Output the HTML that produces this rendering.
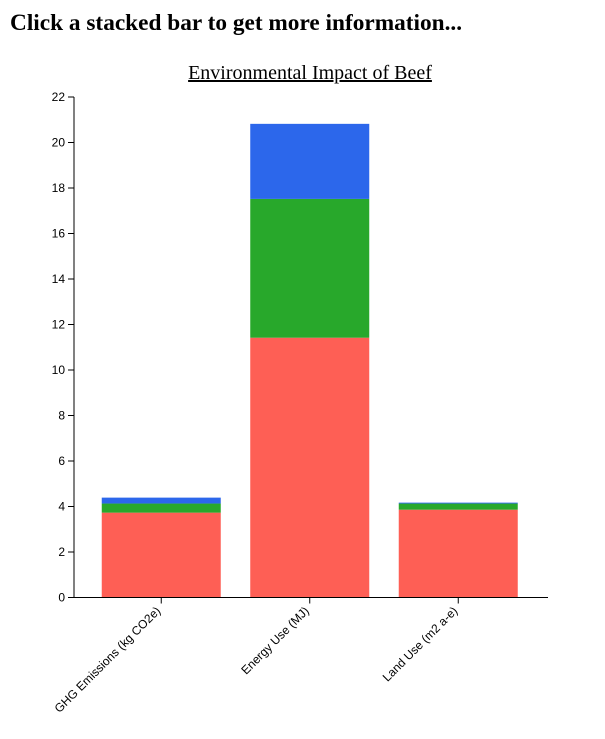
<!DOCTYPE html>
<html><head><meta charset="utf-8"><style>
body{margin:0;background:#fff;font-family:"Liberation Serif",serif;}
h1{position:absolute;left:10px;top:10px;margin:0;font-size:23.3px;font-weight:bold;}
</style></head><body>
<h1>Click a stacked bar to get more information...</h1>
<svg id="c" width="605" height="739" style="position:absolute;left:0;top:0">
<text x="310" y="79" text-anchor="middle" font-family="Liberation Serif, serif" font-size="20" text-decoration="underline">Environmental Impact of Beef</text>
</svg>
<script>
const categories=["GHG Emissions (kg CO2e)","Energy Use (MJ)","Land Use (m2 a-e)"];
const seriesA=[3.73,11.42,3.86];
const seriesB=[0.40,6.10,0.27];
const seriesC=[0.26,3.30,0.04];
const colors=["#fe5f55","#28a82b","#2c67eb"];
const yTicks=[0,2,4,6,8,10,12,14,16,18,20,22];
const svg=document.getElementById('c');
const NS="http://www.w3.org/2000/svg";
const x0=74,x1=548,y0=597.5,y1=97,yMax=22;
const y=v=>y0-(v/yMax)*(y0-y1);
const bandStart=87,band=148.5,bw=119;
const bx=i=>bandStart+i*band+(band-bw)/2;
function el(t,a){const e=document.createElementNS(NS,t);for(const k in a)e.setAttribute(k,a[k]);svg.appendChild(e);return e;}
const series=[seriesA,seriesB,seriesC];
categories.forEach((c,i)=>{
  let base=0;
  series.forEach((s,j)=>{
    const r=el('rect',{x:bx(i),y:y(base+s[i]),width:bw,height:y(base)-y(base+s[i]),fill:colors[j]});
    
    
    base+=s[i];
  });
});
const ya=el('line',{x1:x0,y1:y1,x2:x0,y2:y0,stroke:'#000','stroke-width':1});


yTicks.forEach(t=>{
  el('line',{x1:x0-6,x2:x0,y1:y(t),y2:y(t),stroke:'#000'});
  const tx=el('text',{x:x0-9,y:y(t)+4,'text-anchor':'end','font-family':'Liberation Sans, sans-serif','font-size':12});
  tx.textContent=t;
  
  
});
const xa=el('line',{x1:x0,y1:y0,x2:x1,y2:y0,stroke:'#000','stroke-width':1});


categories.forEach((c,i)=>{
  const cx=bx(i)+bw/2;
  el('line',{x1:cx,x2:cx,y1:y0,y2:y0+6,stroke:'#000'});
  const tx=el('text',{x:cx,y:y0+14,'text-anchor':'end','font-family':'Liberation Sans, sans-serif','font-size':12,transform:`rotate(-45 ${cx} ${y0+14})`});
  tx.textContent=c;
  
  
});
</script>
</body></html>
